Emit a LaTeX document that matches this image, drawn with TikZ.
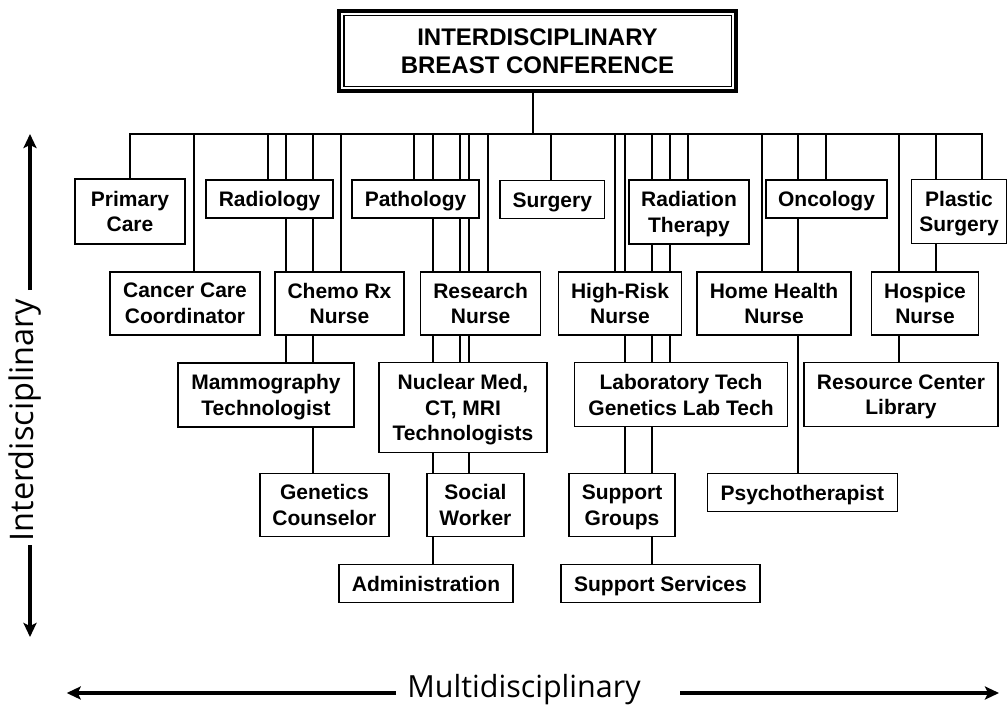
\documentclass[tikz,border=0pt]{standalone}
\usepackage{fontspec}
\setmainfont{Liberation Sans}
\newfontfamily\sidefont{Open Sans}
\usetikzlibrary{arrows.meta}
\pgfdeclarelayer{bg}
\pgfsetlayers{bg,main}
\begin{document}
\begin{tikzpicture}[x=1pt,y=-1pt,
  box/.style={draw,fill=white,line width=1.5pt,align=center,inner sep=0pt,outer sep=0pt,
    font=\fontsize{21}{25.7}\selectfont\bfseries},
  one/.style={text height=15pt,text depth=0pt},
  conn/.style={line width=1.3pt,line cap=rect},
  bigarrow/.style={line width=4pt,-{Stealth[length=14pt,width=13pt,inset=3pt]}},
  sidetext/.style={font=\sidefont\fontsize{30.5}{30.5}\selectfont,inner sep=0pt}]
\useasboundingbox (0,0) rectangle (1008,709);

% top box
\node[draw,line width=4pt,outer sep=0pt,inner sep=0pt,minimum width=397pt,minimum height=80pt,
  align=center,font=\fontsize{24}{28}\selectfont\bfseries] (top) at (537.5,51)
  {INTERDISCIPLINARY\\BREAST CONFERENCE};
\draw[line width=1.4pt] ([shift={(4.8pt,-4.8pt)}]top.north west) rectangle ([shift={(-4.8pt,4.8pt)}]top.south east);

% row 1
\node[box,minimum width=110pt,minimum height=65pt] (pc) at (130,211.5) {Primary\\Care};
\node[box,one,minimum width=127pt,minimum height=38pt] (rad) at (269.5,199) {Radiology};
\node[box,one,minimum width=127pt,minimum height=38pt] (path) at (415.5,199) {Pathology};
\node[box,one,minimum width=104.5pt,minimum height=38pt] (surg) at (552.3,199.5) {Surgery};
\node[box,minimum width=120pt,minimum height=64pt] (radt) at (689,212) {Radiation\\\smash{Therapy}};
\node[box,one,minimum width=121pt,minimum height=38pt] (onc) at (826.5,199) {Oncology};
\node[box,minimum width=95pt,minimum height=64pt] (plas) at (959,211.5) {Plastic\\\smash{Surgery}};

% row 2
\node[box,minimum width=150pt,minimum height=63pt] (ccc) at (185,303.5) {Cancer Care\\Coordinator};
\node[box,minimum width=129pt,minimum height=63pt] (chemo) at (339.5,303.5) {Chemo Rx\\Nurse};
\node[box,minimum width=120pt,minimum height=63pt] (res) at (480.6,303.5) {Research\\Nurse};
\node[box,minimum width=123pt,minimum height=63pt] (hrn) at (620,303.5) {High-Risk\\Nurse};
\node[box,minimum width=154pt,minimum height=63pt] (hhn) at (774,303.5) {Home Health\\Nurse};
\node[box,minimum width=107pt,minimum height=63pt] (hosp) at (925,303.5) {Hospice\\Nurse};

% row 3
\node[box,minimum width=176pt,minimum height=64pt] (mam) at (266,395) {Mammography\\\smash{Technologist}};
\node[box,minimum width=168pt,minimum height=90pt] (nuc) at (463,407.5) {Nuclear Med,\\CT, MRI\\\smash{Technologists}};
\node[box,minimum width=213pt,minimum height=64pt] (lab) at (681,394.7) {Laboratory Tech\\Genetics Lab Tech};
\node[box,minimum width=194pt,minimum height=64pt] (rcl) at (901,394.7) {Resource Center\\\smash{Library}};

% row 4
\node[box,minimum width=129pt,minimum height=63pt] (gc) at (324.4,505) {Genetics\\Counselor};
\node[box,minimum width=97pt,minimum height=63pt] (sw) at (475.4,505) {Social\\Worker};
\node[box,minimum width=106pt,minimum height=63pt] (sg) at (622,505) {Support\\\smash{Groups}};
\node[box,one,minimum width=190pt,minimum height=38pt] (psy) at (802.3,492.5) {Psychotherapist};

% row 5
\node[box,one,minimum width=174pt,minimum height=38pt] (adm) at (426,583.5) {Administration};
\node[box,one,minimum width=199pt,minimum height=38pt] (ss) at (660.5,583.5) {Support Services};

% connectors
\coordinate (bus) at (0,134);
\begin{pgfonlayer}{bg}
\draw[conn] (533,0 |- top.south) -- (533,0 |- bus);
\draw[conn] (130,0 |- bus) -- (982,0 |- bus);
\foreach \xx/\nn in {130/pc,194/ccc,268/rad,286/mam,313/gc,341/chemo,
  414/path,433/adm,460/nuc,469/sw,488/res,551/surg,615/hrn,625/sg,652/ss,
  670/lab,688/radt,762/hhn,798/psy,826/onc,899/rcl,936/hosp,982/plas}
  \draw[conn] (\xx,0 |- bus) -- (\xx,0 |- \nn.north);
\end{pgfonlayer}

% side axes
\node[sidetext,font=\sidefont\fontsize{32.5}{32.5}\selectfont,rotate=90] (inter) at (25,420) {Interdisciplinary};
\coordinate (vtop) at (30,134);
\coordinate (vbot) at (30,637);
\coordinate (vtopA) at (30,290);
\coordinate (vbotA) at (30,545);
\draw[bigarrow] (vtopA) -- (vtop);
\draw[bigarrow] (vbotA) -- (vbot);

\node[sidetext] (multi) at (524,690) {Multidisciplinary};
\coordinate (hl) at (66.7,693);
\coordinate (hr) at (999,693);
\coordinate (hlA) at (396,693);
\coordinate (hrA) at (680,693);
\draw[bigarrow] (hlA) -- (hl);
\draw[bigarrow] (hrA) -- (hr);
\end{tikzpicture}
\end{document}
